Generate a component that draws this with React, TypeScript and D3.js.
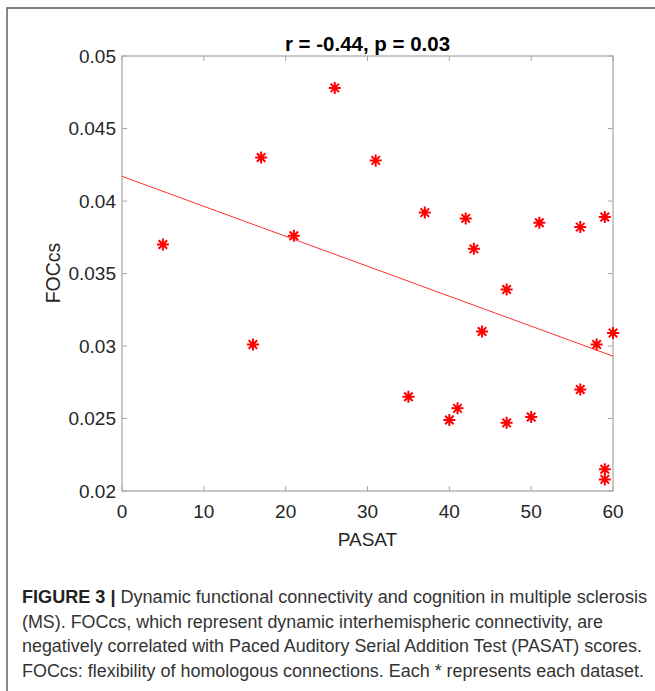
import { useEffect, useRef } from 'react'
import * as d3 from 'd3'

// PASAT scores and FOCcs values
const pasat = [5, 16, 17, 21, 26, 31, 35, 37, 40, 41, 42, 43, 44, 47, 47, 50, 51, 56, 56, 58, 59, 59, 59, 60]
const foccs = [0.037, 0.0301, 0.043, 0.0376, 0.0478, 0.0428, 0.0265, 0.0392, 0.0249, 0.0257, 0.0388, 0.0367, 0.031, 0.0339, 0.0247, 0.0251, 0.0385, 0.0382, 0.027, 0.0301, 0.0389, 0.0215, 0.0208, 0.0309]

// fitted line end points (x, y)
const fitX = [0, 60]
const fitY = [0.0417, 0.0293]

const xTicks = [0, 10, 20, 30, 40, 50, 60]
const yTicks = [0.02, 0.025, 0.03, 0.035, 0.04, 0.045, 0.05]

const title = 'r = -0.44, p = 0.03'
const xLabel = 'PASAT'
const yLabel = 'FOCcs'

const captionBold = 'FIGURE 3 |'
const captionLines = [
  ' Dynamic functional connectivity and cognition in multiple sclerosis',
  '(MS). FOCcs, which represent dynamic interhemispheric connectivity, are',
  'negatively correlated with Paced Auditory Serial Addition Test (PASAT) scores.',
  'FOCcs: flexibility of homologous connections. Each * represents each dataset.',
]
const captionEnds = [647, 603, 642, 644]

export default function App() {
  const svgRef = useRef<SVGSVGElement>(null)

  useEffect(() => {
    if (!svgRef.current) return
    const svg = d3.select(svgRef.current)
    svg.selectAll('*').remove()

    const font = '"Liberation Sans", Arial, Helvetica, sans-serif'
    const left = 122, right = 613, top = 56, bottom = 491
    const axisColor = '#a6a6a6'
    const textColor = '#262626'

    const x = d3.scaleLinear().domain([0, 60]).range([left, right])
    const y = d3.scaleLinear().domain([0.02, 0.05]).range([bottom, top])

    // outer frame
    svg.append('path')
      .attr('d', `M7,691 V8 H655`)
      .attr('fill', 'none')
      .attr('stroke', '#555')
      .attr('stroke-width', 1.4)

    // plot box
    svg.append('rect')
      .attr('x', left).attr('y', top)
      .attr('width', right - left).attr('height', bottom - top)
      .attr('fill', 'white')
      .attr('stroke', axisColor)
      .attr('stroke-width', 1.2)

    const tickLen = 5
    xTicks.forEach(t => {
      const px = x(t)
      svg.append('line').attr('x1', px).attr('x2', px).attr('y1', bottom).attr('y2', bottom - tickLen)
        .attr('stroke', axisColor)
      svg.append('line').attr('x1', px).attr('x2', px).attr('y1', top).attr('y2', top + tickLen)
        .attr('stroke', axisColor)
      svg.append('text')
        .attr('x', px).attr('y', bottom + 27)
        .attr('text-anchor', 'middle')
        .attr('font-family', font).attr('font-size', 19)
        .attr('fill', textColor)
        .text(d3.format('d')(t))
    })

    yTicks.forEach(t => {
      const py = y(t)
      svg.append('line').attr('x1', left).attr('x2', left + tickLen).attr('y1', py).attr('y2', py)
        .attr('stroke', axisColor)
      svg.append('line').attr('x1', right).attr('x2', right - tickLen).attr('y1', py).attr('y2', py)
        .attr('stroke', axisColor)
      svg.append('text')
        .attr('x', left - 6).attr('y', py)
        .attr('dy', '0.35em')
        .attr('text-anchor', 'end')
        .attr('font-family', font).attr('font-size', 19)
        .attr('fill', textColor)
        .text(String(+t.toFixed(3)))
    })

    // fit line
    const line = d3.line<number>()
      .x((_, i) => x(fitX[i]))
      .y(d => y(d))
    svg.append('path')
      .attr('d', line(fitY))
      .attr('fill', 'none')
      .attr('stroke', '#ff3030')
      .attr('stroke-width', 1)

    // asterisk markers
    const r = 6
    const d = r * Math.SQRT1_2
    const star = `M${-r},0H${r}M0,${-r}V${r}M${-d},${-d}L${d},${d}M${-d},${d}L${d},${-d}`
    pasat.forEach((p, i) => {
      svg.append('path')
        .attr('transform', `translate(${x(p)},${y(foccs[i])})`)
        .attr('d', star)
        .attr('fill', 'none')
        .attr('stroke', '#ff0000')
        .attr('stroke-width', 2)
    })

    // title and axis labels
    svg.append('text')
      .attr('x', (left + right) / 2).attr('y', 51)
      .attr('text-anchor', 'middle')
      .attr('font-family', font).attr('font-size', 20.5).attr('font-weight', 'bold')
      .attr('fill', '#000')
      .text(title)

    svg.append('text')
      .attr('x', (left + right) / 2).attr('y', 546)
      .attr('text-anchor', 'middle')
      .attr('font-family', font).attr('font-size', 19)
      .attr('fill', textColor)
      .text(xLabel)

    svg.append('text')
      .attr('transform', `translate(60,273) rotate(-90)`)
      .attr('text-anchor', 'middle')
      .attr('font-family', font).attr('font-size', 19.5)
      .attr('fill', textColor)
      .text(yLabel)

    // caption
    captionLines.forEach((ln, i) => {
      const t = svg.append('text')
        .attr('x', 22).attr('y', 603 + i * 24.6)
        .attr('font-family', font).attr('font-size', 17.5)
        .attr('fill', '#333')
        .attr('textLength', captionEnds[i] - 22)
        .attr('lengthAdjust', 'spacingAndGlyphs')
      if (i === 0) {
        t.append('tspan').attr('font-weight', 'bold').attr('fill', '#222').text(captionBold)
      }
      t.append('tspan').text(ln)
    })
  }, [])

  return (
    <svg
      ref={svgRef}
      width={655}
      height={691}
      style={{ position: 'absolute', left: 0, top: 0, background: 'white' }}
    />
  )
}
